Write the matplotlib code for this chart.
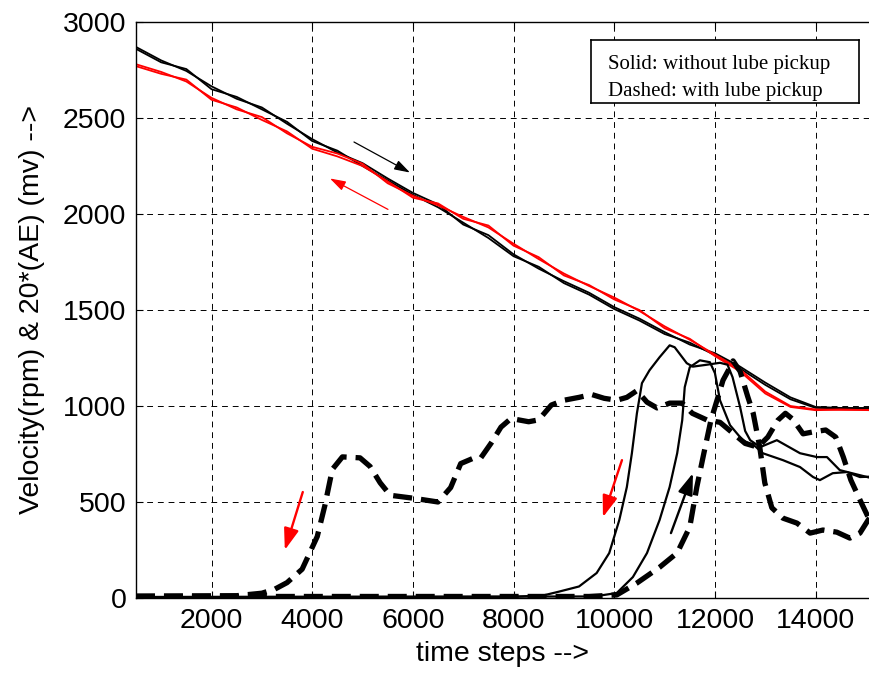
import matplotlib
matplotlib.use("Agg")
import matplotlib.pyplot as plt
from matplotlib.patches import Rectangle

plt.rcParams['font.family'] = ['Liberation Sans', 'DejaVu Sans']

# ---------------- data ----------------
vel_x = [500, 1000, 1500, 2000, 2500, 3000, 3500, 4000, 4500, 5000, 5500, 6000,
         6500, 7000, 7500, 8000, 8500, 9000, 9500, 10000, 10500, 11000, 11500,
         12000, 12500, 13000, 13500, 14000, 14500, 15100]
vel_black_a = [2870, 2800, 2745, 2665, 2600, 2555, 2470, 2390, 2320, 2265, 2185, 2110,
               2050, 1945, 1890, 1790, 1715, 1650, 1590, 1515, 1455, 1385, 1320,
               1275, 1205, 1122, 1045, 995, 990, 988]
vel_black_b = [2860, 2790, 2755, 2650, 2610, 2545, 2480, 2380, 2330, 2250, 2175, 2100,
               2035, 1955, 1875, 1780, 1725, 1640, 1580, 1505, 1445, 1375, 1330,
               1265, 1195, 1110, 1035, 990, 988, 990]
vel_red_a = [2780, 2740, 2690, 2605, 2545, 2505, 2420, 2350, 2315, 2262, 2160, 2095,
             2045, 1985, 1930, 1845, 1765, 1690, 1625, 1565, 1495, 1415, 1345,
             1268, 1190, 1075, 1000, 982, 980, 980]
vel_red_b = [2770, 2730, 2700, 2595, 2555, 2490, 2430, 2340, 2300, 2250, 2170, 2085,
             2055, 1975, 1940, 1835, 1775, 1680, 1630, 1555, 1500, 1405, 1350,
             1260, 1180, 1065, 995, 978, 982, 978]

# AE (x20) dashed: with lube pickup
d1_x = [500, 2500, 3000, 3250, 3500, 3800, 4100, 4250, 4400, 4600, 4950, 5150, 5350,
        5550, 6000, 6500, 6750, 6950, 7200, 7350, 7550, 7750, 7950, 8300, 8500, 8750,
        9000, 9300, 9550, 9800, 10050, 10250, 10450, 10650, 10850, 11100, 11350,
        11550, 11850, 12100, 12350, 12600, 12850, 13050, 13250, 13400, 13550, 13750,
        13950, 14200, 14400, 14550, 14700, 14900, 15100]
d1_y = [10, 12, 25, 45, 80, 150, 320, 480, 670, 735, 730, 685, 600,
        535, 520, 500, 575, 700, 728, 730, 805, 890, 935, 918, 928, 1005,
        1030, 1045, 1060, 1040, 1030, 1045, 1080, 1020, 990, 1015, 1015,
        962, 926, 915, 860, 805, 786, 838, 926, 962, 930, 855,
        865, 875, 838, 734, 614, 500, 390]
d2_x = [500, 9500, 10050, 10450, 10900, 11250, 11500, 11640, 11780, 11920, 12060,
        12160, 12300, 12360, 12500, 12650, 12760, 12890, 12990, 13130, 13350, 13630,
        13890, 14145, 14420, 14680, 14880, 15100]
d2_y = [8, 8, 16, 78, 160, 235, 370, 578, 754, 926, 1046,
        1134, 1202, 1235, 1180, 1050, 962, 786, 600, 470, 416, 390,
        338, 354, 343, 312, 338, 430]

# AE (x20) solid: without lube pickup
s1_x = [500, 8000, 8600, 8900, 9300, 9650, 9900, 10100, 10250, 10350, 10450, 10550,
        10700, 10900, 11100, 11200, 11440, 11560, 11840, 12100, 12250, 12350, 12500,
        12600, 12700, 12900, 13230, 13690, 14025, 14225, 14480, 15100]
s1_y = [5, 6, 14, 33, 60, 130, 234, 406, 578, 754, 962, 1119,
        1186, 1254, 1316, 1306, 1223, 1205, 1215, 1225, 1215, 1150, 994,
        870, 822, 786, 822, 754, 734, 734, 666, 625]
s2_x = [500, 9600, 10050, 10370, 10650, 10900, 11100, 11250, 11350, 11400, 11500,
        11700, 11900, 12000, 12100, 12300, 12550, 12800, 12950, 13350, 13690, 13950,
        14085, 14340, 14620, 14880, 15100]
s2_y = [5, 8, 26, 109, 234, 406, 578, 754, 926, 1098, 1202,
        1238, 1228, 1171, 1030, 900, 822, 790, 754, 718, 682, 630,
        614, 650, 656, 630, 632]

x_ticks = [2000, 4000, 6000, 8000, 10000, 12000, 14000]
y_ticks = [0, 500, 1000, 1500, 2000, 2500, 3000]

# annotation arrows: (start, end, colour, size)
arrows = [
    ((4830, 2375), (5942, 2216), 'black', 'small'),
    ((5505, 2024), (4353, 2185), 'red', 'small'),
    ((3813, 552), (3456, 250), 'red', 'big'),
    ((10153, 718), (9775, 421), 'red', 'big'),
    ((11126, 338), (11563, 650), 'black', 'big'),
]

# ---------------- figure ----------------
W, H = 870, 675
fig = plt.figure(figsize=(W / 100, H / 100), dpi=100)
ax = fig.add_axes([136 / W, 1 - 598 / H, 1 - 136 / W, (598 - 22) / H])

ax.plot(vel_x, vel_black_a, color='black', lw=1.3)
ax.plot(vel_x, vel_black_b, color='black', lw=1.3)
ax.plot(vel_x, vel_red_a, color='red', lw=1.3)
ax.plot(vel_x, vel_red_b, color='red', lw=1.3)

for xs, ys in [(s1_x, s1_y), (s2_x, s2_y)]:
    ax.plot(xs, ys, color='black', lw=1.6, solid_joinstyle='round')
for xs, ys in [(d1_x, d1_y), (d2_x, d2_y)]:
    ax.plot(xs, ys, color='black', lw=3.8, linestyle=(0, (3.6, 1.7)),
            dash_capstyle='butt', dash_joinstyle='round')

for (x0, y0), (x1, y1), c, size in arrows:
    if size == 'small':
        style = '-|>,head_length=0.95,head_width=0.3'
        lw = 0.9
    else:
        style = '-|>,head_length=1.3,head_width=0.45'
        lw = 1.7
    ax.annotate('', xy=(x1, y1), xytext=(x0, y0),
                arrowprops=dict(arrowstyle=style, color=c, lw=lw,
                                shrinkA=0, shrinkB=0, mutation_scale=10))

ax.set_xlim(500, 15080)
ax.set_ylim(0, 3000)
ax.set_xticks(x_ticks)
ax.set_yticks(y_ticks)
ax.tick_params(direction='in', length=5, width=0.8, labelsize=20.5,
               top=True, right=False, pad=7)
ax.grid(True, color='black', lw=0.7, linestyle=(0, (6, 5)))
for s in ['left', 'bottom', 'top']:
    ax.spines[s].set_linewidth(1.0)
ax.spines['right'].set_visible(False)

ax.set_xlabel('time steps -->', fontsize=20.5, labelpad=5)
ax.set_ylabel('Velocity(rpm) & 20*(AE) (mv) -->', fontsize=20.5, labelpad=13)

# text box (second line clipped like the original)
bx = fig.add_axes([591 / W, 1 - 103 / H, (859 - 591) / W, (103 - 40) / H])
bx.set_xticks([])
bx.set_yticks([])
bx.set_facecolor('white')
for s in bx.spines.values():
    s.set_linewidth(1.2)
clip = Rectangle((0, 0.075), 1, 0.925, transform=bx.transAxes)
for txt, yb in [('Solid: without lube pickup', 0.547),
                ('Dashed: with lube pickup', 0.105)]:
    t = bx.text(0.063, yb, txt, transform=bx.transAxes,
                family=['Liberation Serif', 'DejaVu Serif'], fontsize=15,
                va='baseline')
    t.set_clip_path(clip)

fig.savefig('out.png', dpi=100)
